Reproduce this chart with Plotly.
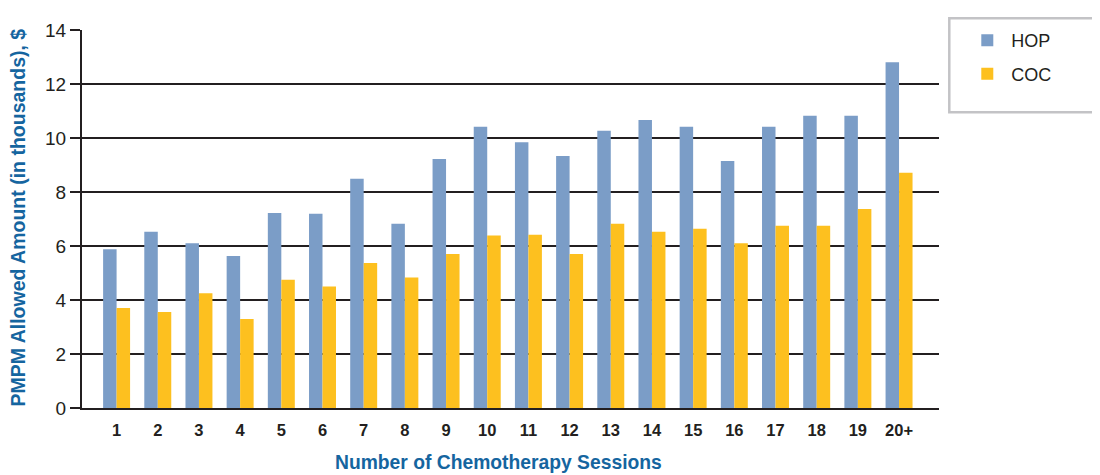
import plotly.graph_objects as go

categories = ["1", "2", "3", "4", "5", "6", "7", "8", "9", "10",
              "11", "12", "13", "14", "15", "16", "17", "18", "19", "20+"]
hop = [5.88, 6.53, 6.10, 5.63, 7.22, 7.19, 8.49, 6.82, 9.22, 10.42,
       9.84, 9.33, 10.27, 10.67, 10.42, 9.15, 10.42, 10.82, 10.82, 12.81]
coc = [3.70, 3.56, 4.25, 3.30, 4.75, 4.50, 5.37, 4.83, 5.70, 6.39,
       6.42, 5.70, 6.82, 6.53, 6.64, 6.10, 6.75, 6.75, 7.37, 8.71]
y_ticks = [0, 2, 4, 6, 8, 10, 12, 14]

FONT = "Liberation Sans, Arial, Helvetica, sans-serif"
DARK = "#231f20"
BLUE_TXT = "#15659f"

# page body has an 8px margin, so figure coords = page coords - 8
OFF = 8
L, T = 81.5 - OFF, 22 - OFF
PW, PH = 857.2, 386.0
W, H = 1100 - OFF, 475 - OFF


def px(xp):
    return (xp - 81.5) / PW


def py(yp):
    return (408 - yp) / PH


fig = go.Figure()
fig.add_trace(go.Bar(x=categories, y=hop, name="HOP", marker_color="#7b9dc7",
                     marker_line_width=0, legendgroup="a"))
fig.add_trace(go.Bar(x=categories, y=coc, name="COC", marker_color="#fdc01f",
                     marker_line_width=0, legendgroup="b"))

fig.update_layout(
    width=W, height=H,
    margin=dict(l=L, r=W - L - PW, t=T, b=H - T - PH),
    paper_bgcolor="white", plot_bgcolor="white",
    barmode="group", bargap=0.345, bargroupgap=0,
    font=dict(family=FONT, color=DARK),
    showlegend=True,
    legend=dict(x=px(963), y=py(14),
                xanchor="left", yanchor="top",
                font=dict(size=18, color=DARK, family=FONT),
                bgcolor="rgba(0,0,0,0)", borderwidth=0, itemwidth=38,
                traceorder="grouped", tracegroupgap=7),
    xaxis=dict(
        type="category", range=[-0.84, 19.97],
        showgrid=False, showline=True, linecolor=DARK, linewidth=2,
        ticks="", tickfont=dict(size=16.5, family=FONT, color=DARK, weight="bold"),
        ticklabelstandoff=6,
    ),
    yaxis=dict(
        range=[0, 14], tickvals=y_ticks, ticktext=[str(v) for v in y_ticks],
        showgrid=True, gridcolor=DARK, gridwidth=2,
        showline=True, linecolor=DARK, linewidth=2,
        ticks="outside", ticklen=10, tickwidth=2, tickcolor=DARK,
        tickfont=dict(size=19, family=FONT, color=DARK),
        zeroline=False,
    ),
    shapes=[dict(type="rect", xref="paper", yref="paper",
                 x0=px(949), x1=px(1106),
                 y0=py(106), y1=py(10),
                 line=dict(color="#c3c3c6", width=2.5), fillcolor="rgba(0,0,0,0)")],
    annotations=[
        dict(text="<b>Number of Chemotherapy Sessions</b>", xref="paper", yref="paper",
             x=px(498), y=py(464), xanchor="center", yanchor="middle",
             showarrow=False, font=dict(size=19.3, color=BLUE_TXT, family=FONT)),
        dict(text="<b>PMPM Allowed Amount (in thousands), $</b>", xref="paper", yref="paper",
             x=px(18), y=py(214), xanchor="center", yanchor="middle",
             textangle=-90, showarrow=False, font=dict(size=19.5, color=BLUE_TXT, family=FONT)),
    ],
)

fig.write_html("out.html")
